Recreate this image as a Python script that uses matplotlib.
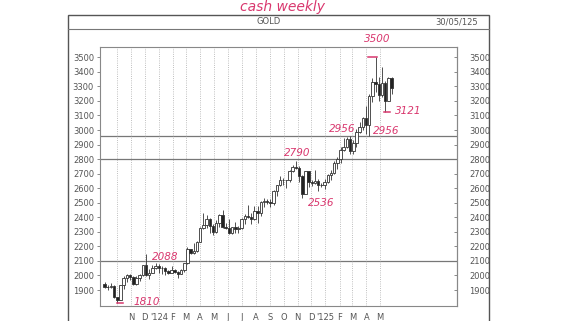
import numpy as np
import pandas as pd
import matplotlib
matplotlib.use("Agg")
import matplotlib.pyplot as plt
import matplotlib.dates as mdates
from matplotlib.patches import Rectangle
from matplotlib.lines import Line2D

# weekly gold candles, week starting monday
weeks = pd.date_range("2023-09-04", "2025-05-26", freq="W-MON")
opens = [1940, 1919, 1924, 1925, 1849, 1833, 1932, 1981, 2006, 1992,
         1940, 1981, 2002, 2072, 2004, 2019, 2053, 2063, 2049, 2049,
         2029, 2018, 2039, 2024, 2013, 2035, 2083, 2179, 2155, 2165,
         2230, 2329, 2344, 2391, 2338, 2302, 2360, 2415, 2334, 2327,
         2293, 2333, 2322, 2326, 2391, 2411, 2401, 2387, 2443, 2431,
         2507, 2512, 2503, 2497, 2578, 2622, 2658, 2653, 2657, 2721,
         2747, 2737, 2685, 2563, 2715, 2643, 2633, 2648, 2622, 2621,
         2640, 2690, 2702, 2770, 2800, 2861, 2883, 2936, 2857, 2910,
         2984, 3023, 3085, 3037, 3237, 3327, 3319, 3240, 3325, 3202,
         3357]
highs = [1953, 1933, 1947, 1936, 1853, 1935, 1997, 2009, 2010, 1993,
         1993, 2008, 2075, 2146, 2047, 2070, 2088, 2078, 2062, 2060,
         2037, 2065, 2044, 2031, 2041, 2088, 2195, 2185, 2222, 2236,
         2331, 2431, 2417, 2394, 2355, 2378, 2422, 2450, 2364, 2388,
         2335, 2368, 2339, 2393, 2424, 2484, 2431, 2477, 2477, 2509,
         2531, 2528, 2529, 2586, 2625, 2685, 2672, 2657, 2722, 2758,
         2790, 2750, 2693, 2721, 2721, 2657, 2726, 2664, 2639, 2665,
         2697, 2725, 2786, 2817, 2886, 2942, 2955, 2956, 2930, 3004,
         3057, 3087, 3167, 3245, 3357, 3500, 3368, 3435, 3340, 3366,
         3365]
lows = [1915, 1901, 1913, 1846, 1810, 1831, 1908, 1953, 1969, 1932,
        1931, 1965, 1993, 1995, 1973, 2016, 2047, 2017, 2013, 2002,
        2010, 2018, 2015, 1984, 2009, 2024, 2079, 2146, 2146, 2162,
        2228, 2319, 2325, 2291, 2277, 2292, 2333, 2325, 2322, 2287,
        2286, 2295, 2293, 2319, 2353, 2393, 2353, 2383, 2364, 2410,
        2470, 2491, 2471, 2485, 2546, 2617, 2624, 2603, 2641, 2708,
        2730, 2643, 2536, 2560, 2605, 2614, 2631, 2583, 2610, 2596,
        2635, 2656, 2701, 2731, 2772, 2855, 2878, 2833, 2832, 2880,
        2980, 3000, 2971, 2956, 3194, 3260, 3202, 3228, 3121, 3200,
        3245]
closes = [1919, 1924, 1925, 1849, 1833, 1932, 1981, 2006, 1992, 1940,
          1981, 2002, 2072, 2004, 2019, 2053, 2063, 2049, 2049, 2029,
          2018, 2039, 2024, 2013, 2035, 2083, 2179, 2155, 2165, 2230,
          2329, 2344, 2391, 2338, 2302, 2360, 2415, 2334, 2327, 2293,
          2333, 2322, 2326, 2391, 2411, 2401, 2387, 2443, 2431, 2507,
          2512, 2503, 2497, 2578, 2622, 2658, 2653, 2657, 2721, 2747,
          2737, 2685, 2563, 2715, 2643, 2633, 2648, 2622, 2621, 2640,
          2690, 2702, 2770, 2800, 2861, 2883, 2936, 2857, 2910, 2984,
          3023, 3085, 3037, 3237, 3327, 3319, 3240, 3325, 3202, 3357,
          3289]

levels = [2956, 2800, 2098]
months = pd.date_range("2023-10-01", "2025-05-01", freq="MS")
month_labels = ["", "N", "D", "'124", "F", "M", "A", "M", "J", "J", "A",
                "S", "O", "N", "D", "'125", "F", "M", "A", "M"]
y_ticks = list(range(1900, 3600, 100))

# handwritten notes: text, week of the candle, price, offset in pixels
notes = [("3500", "2025-04-21", 3500, 2, 18, "center"),
         ("3121", "2025-05-12", 3121, 10, 1, "left"),
         ("2956", "2025-04-07", 2956, 4, 5, "left"),
         ("2956", "2025-02-24", 2956, -8, 7, "center"),
         ("2790", "2024-10-28", 2790, 1, 8, "center"),
         ("2536", "2024-11-11", 2536, 19, -5, "center"),
         ("2088", "2023-12-25", 2088, 10, 6, "center"),
         ("1810", "2023-10-02", 1810, 16, 1, "left")]
dashes = [("2025-04-21", 3500, -16, 3), ("2025-05-12", 3121, -2, 11),
          ("2023-10-02", 1810, 0, 13)]

ink = "#d9376e"
txt_font = ["Liberation Sans Narrow", "DejaVu Sans"]

fig = plt.figure(figsize=(5.61, 3.21), dpi=100)
ax = fig.add_axes([100 / 561, 15 / 321, 356.7 / 561, 259.3 / 321])

x = mdates.date2num(weeks)
o = np.array(opens)
c = np.array(closes)
up = c >= o
body_lo = np.minimum(o, c)
body_h = np.maximum(np.abs(c - o), 3)

ax.vlines(x, lows, highs, color="#333333", lw=0.6, zorder=2)
ax.bar(x, body_h, bottom=body_lo, width=5.5,
       color=np.where(up, "white", "#222222"),
       edgecolor="#333333", linewidth=0.6, zorder=3)

for lv in levels:
    ax.axhline(lv, color="#777777", lw=0.9, zorder=1)

ax.set_xlim(pd.Timestamp("2023-08-25"), pd.Timestamp("2025-10-16"))
ax.set_ylim(1790, 3573)

ax.set_xticks(mdates.date2num(months))
ax.set_xticklabels(month_labels, fontsize=6, color="#555555", family=txt_font)
ax.tick_params(axis="x", length=0, pad=5)
ax.grid(axis="x", linestyle=":", color="#aaaaaa", lw=0.6)

ax.set_yticks(y_ticks)
ax.set_yticklabels([str(v) for v in y_ticks], fontsize=6, color="#555555",
                   family=txt_font)
ax.tick_params(axis="y", length=2.5, pad=1.8, color="#777777", width=0.6)
sec = ax.secondary_yaxis("right")
sec.set_yticks(y_ticks)
sec.set_yticklabels([str(v) for v in y_ticks], fontsize=6, color="#555555",
                    family=txt_font)
sec.tick_params(direction="in", length=2.5, pad=9, color="#777777", width=0.6)
for sp in list(ax.spines.values()) + list(sec.spines.values()):
    sp.set_color("#888888")
    sp.set_linewidth(0.8)

for label, wk, val, dx, dy, ha in notes:
    ax.annotate(label, xy=(mdates.date2num(pd.Timestamp(wk)), val),
                xytext=(dx, dy), textcoords="offset pixels", ha=ha,
                va="center", fontsize=7.5, style="italic", color=ink,
                annotation_clip=False)
for wk, val, d0, d1 in dashes:
    t = mdates.date2num(pd.Timestamp(wk))
    ax.plot([t + d0, t + d1], [val, val], color=ink, lw=1.1, zorder=4,
            clip_on=False)

# outer frame and header
fig.add_artist(Rectangle((68 / 561, -0.05), 421 / 561, 1.05 - 15 / 321,
                         transform=fig.transFigure, fill=False,
                         edgecolor="#555555", lw=1.0))
fig.add_artist(Line2D([68 / 561, 489 / 561], [1 - 29 / 321] * 2,
                      transform=fig.transFigure, color="#777777", lw=0.8))
fig.text(269 / 561, 1 - 22 / 321, "GOLD", ha="center", va="center",
         fontsize=6, color="#555555", family=txt_font)
fig.text(478 / 561, 1 - 22 / 321, "30/05/125", ha="right", va="center",
         fontsize=6, color="#555555", family=txt_font)
fig.text(282 / 561, 1 - 7 / 321, "cash weekly", ha="center", va="center",
         fontsize=10, style="italic", color=ink)

fig.savefig("out.png", dpi=100)
